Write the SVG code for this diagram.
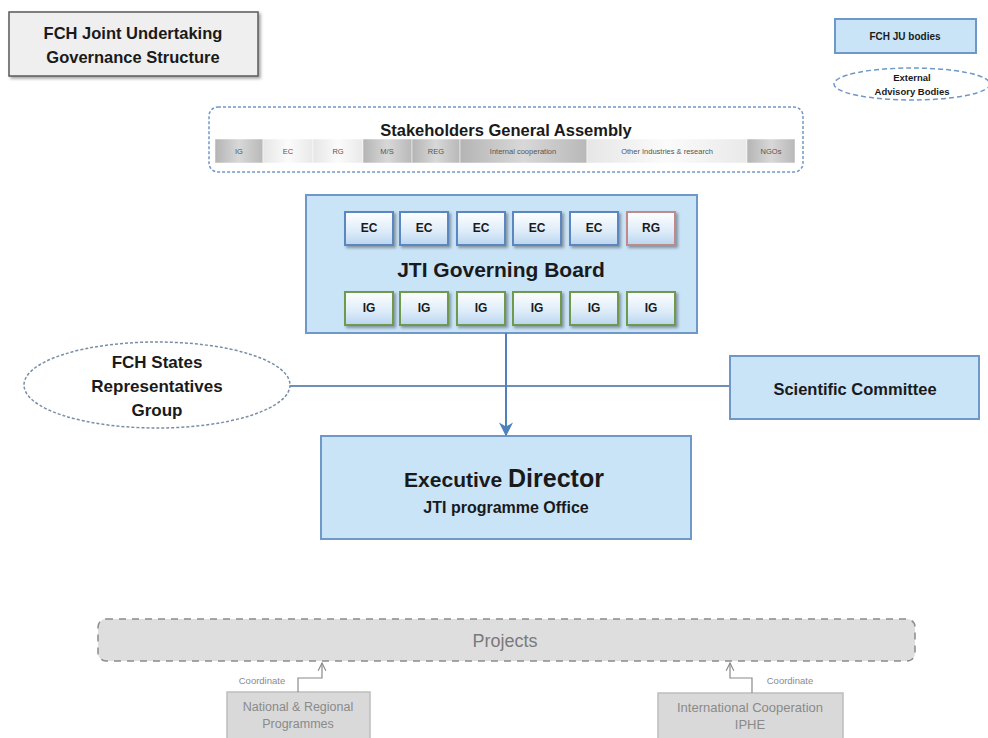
<svg xmlns="http://www.w3.org/2000/svg" width="988" height="738" viewBox="0 0 988 738">
<defs>
  <linearGradient id="gBlue" x1="0" y1="0" x2="0" y2="1">
    <stop offset="0" stop-color="#ffffff"/>
    <stop offset="0.6" stop-color="#dcebf8"/>
    <stop offset="1" stop-color="#b9d5f0"/>
  </linearGradient>
  <linearGradient id="gDark" x1="0" y1="0" x2="1" y2="0">
    <stop offset="0" stop-color="#b4b4b4"/>
    <stop offset="0.5" stop-color="#d8d8d8"/>
    <stop offset="1" stop-color="#b8b8b8"/>
  </linearGradient>
  <linearGradient id="gLight" x1="0" y1="0" x2="1" y2="0">
    <stop offset="0" stop-color="#e6e6e6"/>
    <stop offset="0.5" stop-color="#fbfbfb"/>
    <stop offset="1" stop-color="#e9e9e9"/>
  </linearGradient>
  <filter id="shadow" x="-10%" y="-10%" width="120%" height="130%">
    <feDropShadow dx="2" dy="2" stdDeviation="1.5" flood-color="#000" flood-opacity="0.35"/>
  </filter>
  <marker id="arrow" viewBox="0 0 10 10" refX="9" refY="5" markerWidth="7" markerHeight="7" orient="auto">
    <path d="M0,0 L10,5 L0,10 L3,5 z" fill="#4f81bd"/>
  </marker>
  <marker id="openArrow" viewBox="0 0 10 10" refX="9" refY="5" markerWidth="8" markerHeight="8" orient="auto">
    <path d="M1,1 L9,5 L1,9" fill="none" stroke="#8a8a8a" stroke-width="1.2"/>
  </marker>
</defs>
<style>
  text { font-family: "Liberation Sans", Arial, sans-serif; font-weight: bold; fill: #1a1a1a; text-anchor: middle; }
  .blue { fill: #c9e3f7; stroke: #6f98c8; stroke-width: 2; }
  .small { fill: url(#gBlue); stroke-width: 2; }
  .ec { stroke: #5b86c0; }
  .rg { stroke: #c08a8a; }
  .ig { stroke: #6e9a4e; }
  .cell { stroke: #ffffff; stroke-width: 0.5; }
  .celltxt { font-size: 7.5px; fill: #555; font-weight: normal; }
  .gray { fill: #d9d9d9; stroke: #bdbdbd; stroke-width: 1.5; }
  .graytxt { font-weight: normal; fill: #8a8a8a; }
  .conn { stroke: #4f81bd; stroke-width: 2; fill: none; }
  .coord { stroke: #8a8a8a; stroke-width: 1.2; fill: none; }
</style>
<rect width="988" height="738" fill="#ffffff"/>

<g id="title">
  <rect x="9" y="12" width="249" height="64" fill="#efefef" stroke="#5a5a5a" stroke-width="1.5" filter="url(#shadow)"/>
  <text x="133" y="39" font-size="16.5">FCH Joint Undertaking</text>
  <text x="133" y="63" font-size="16.5">Governance Structure</text>
</g>

<g id="legend-bodies">
  <rect x="835" y="19" width="141" height="34" fill="#c9e3f7" stroke="#6f98c8" stroke-width="2"/>
  <text x="905" y="40" font-size="10">FCH JU bodies</text>
</g>

<g id="legend-external">
  <ellipse cx="912" cy="84" rx="78" ry="16" fill="none" stroke="#6f98c8" stroke-width="1.5" stroke-dasharray="5,3"/>
  <text x="912" y="81" font-size="9.5" fill="#333">External</text>
  <text x="912" y="95" font-size="9.5" fill="#333">Advisory Bodies</text>
</g>

<g id="stakeholders">
  <rect x="209" y="107" width="594" height="65" rx="9" fill="#ffffff" stroke="#6f98c8" stroke-width="1.5" stroke-dasharray="3,2"/>
  <text x="506" y="136" font-size="16.5">Stakeholders General Assembly</text>
  <rect class="cell" x="215" y="139" width="48" height="24" fill="url(#gDark)"/>
  <rect class="cell" x="263" y="139" width="50" height="24" fill="url(#gLight)"/>
  <rect class="cell" x="313" y="139" width="50" height="24" fill="url(#gLight)"/>
  <rect class="cell" x="363" y="139" width="49" height="24" fill="url(#gDark)"/>
  <rect class="cell" x="412" y="139" width="48" height="24" fill="url(#gDark)"/>
  <rect class="cell" x="460" y="139" width="127" height="24" fill="url(#gDark)"/>
  <rect class="cell" x="587" y="139" width="160" height="24" fill="url(#gLight)"/>
  <rect class="cell" x="747" y="139" width="48" height="24" fill="url(#gDark)"/>
  <text class="celltxt" x="239" y="154">IG</text>
  <text class="celltxt" x="288" y="154">EC</text>
  <text class="celltxt" x="338" y="154">RG</text>
  <text class="celltxt" x="387" y="154">M/S</text>
  <text class="celltxt" x="436" y="154">REG</text>
  <text class="celltxt" x="523" y="154">Internal cooperation</text>
  <text class="celltxt" x="667" y="154">Other Industries &amp; research</text>
  <text class="celltxt" x="771" y="154">NGOs</text>
</g>

<g id="governing-board">
  <rect class="blue" x="306" y="195" width="391" height="138"/>
  <text x="501" y="277" font-size="21">JTI Governing Board</text>
  <g filter="url(#shadow)">
    <rect class="small ec" x="345" y="212" width="48" height="33"/>
    <rect class="small ec" x="400" y="212" width="48" height="33"/>
    <rect class="small ec" x="457" y="212" width="48" height="33"/>
    <rect class="small ec" x="513" y="212" width="48" height="33"/>
    <rect class="small ec" x="570" y="212" width="48" height="33"/>
    <rect class="small rg" x="627" y="212" width="48" height="33"/>
    <rect class="small ig" x="345" y="292" width="48" height="33"/>
    <rect class="small ig" x="400" y="292" width="48" height="33"/>
    <rect class="small ig" x="457" y="292" width="48" height="33"/>
    <rect class="small ig" x="513" y="292" width="48" height="33"/>
    <rect class="small ig" x="570" y="292" width="48" height="33"/>
    <rect class="small ig" x="627" y="292" width="48" height="33"/>
  </g>
  <text x="369" y="232" font-size="12">EC</text>
  <text x="424" y="232" font-size="12">EC</text>
  <text x="481" y="232" font-size="12">EC</text>
  <text x="537" y="232" font-size="12">EC</text>
  <text x="594" y="232" font-size="12">EC</text>
  <text x="651" y="232" font-size="12">RG</text>
  <text x="369" y="312" font-size="12">IG</text>
  <text x="424" y="312" font-size="12">IG</text>
  <text x="481" y="312" font-size="12">IG</text>
  <text x="537" y="312" font-size="12">IG</text>
  <text x="594" y="312" font-size="12">IG</text>
  <text x="651" y="312" font-size="12">IG</text>
</g>

<g id="states-group">
  <ellipse cx="157" cy="385" rx="133" ry="43" fill="#ffffff" stroke="#7a8ea8" stroke-width="1.5" stroke-dasharray="3,2"/>
  <text x="157" y="368" font-size="17">FCH States</text>
  <text x="157" y="392" font-size="17">Representatives</text>
  <text x="157" y="416" font-size="17">Group</text>
</g>

<g id="scientific-committee">
  <rect class="blue" x="730" y="356" width="249" height="63"/>
  <text x="855" y="395" font-size="16.5">Scientific Committee</text>
</g>

<g id="executive-director">
  <rect class="blue" x="321" y="436" width="370" height="103"/>
  <text x="504" y="487" font-size="21">Executive <tspan font-size="25">Director</tspan></text>
  <text x="506" y="513" font-size="16">JTI programme Office</text>
</g>

<g id="projects">
  <rect x="98" y="619" width="817" height="42" rx="8" fill="#dedede" stroke="#8c8c8c" stroke-width="1.5" stroke-dasharray="7,6"/>
  <text x="505" y="647" font-size="18" class="graytxt" style="fill:#7a7a7a">Projects</text>
</g>

<g id="national-programmes">
  <rect class="gray" x="227" y="692" width="143" height="48"/>
  <text x="298" y="711" font-size="12.5" class="graytxt">National &amp; Regional</text>
  <text x="298" y="728" font-size="12.5" class="graytxt">Programmes</text>
</g>

<g id="international-cooperation">
  <rect class="gray" x="658" y="693" width="185" height="47"/>
  <text x="750" y="712" font-size="13" class="graytxt">International Cooperation</text>
  <text x="750" y="729" font-size="13" class="graytxt">IPHE</text>
</g>

<g id="connectors">
  <line class="conn" x1="290" y1="386" x2="730" y2="386" style="stroke:#6f8fb8"/>
  <line class="conn" x1="506" y1="333" x2="506" y2="435" marker-end="url(#arrow)"/>
  <path class="coord" d="M298,692 V678 H322 V663" marker-end="url(#openArrow)"/>
  <path class="coord" d="M752,693 V678 H730 V663" marker-end="url(#openArrow)"/>
  <text x="262" y="684" font-size="9.5" class="graytxt">Coordinate</text>
  <text x="790" y="684" font-size="9.5" class="graytxt">Coordinate</text>
</g>
</svg>
